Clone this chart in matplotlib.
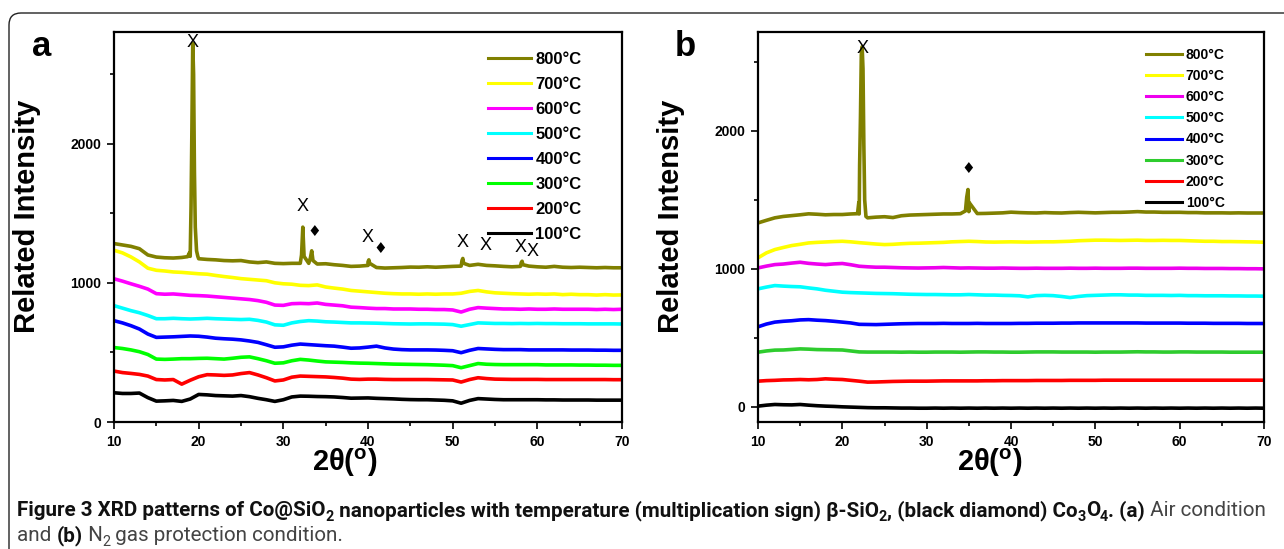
import matplotlib.pyplot as plt
from matplotlib.patches import FancyBboxPatch
from matplotlib.transforms import IdentityTransform
from matplotlib.ticker import MultipleLocator

plt.rcParams['font.family'] = ['Liberation Sans', 'DejaVu Sans']
plt.rcParams['mathtext.fontset'] = 'custom'
plt.rcParams['mathtext.rm'] = 'Liberation Sans'
plt.rcParams['mathtext.bf'] = 'Liberation Sans:bold'

# ---- data (2theta in degrees, intensity in counts) ----
two_theta = list(range(10, 71))
labels = ['800°C', '700°C', '600°C', '500°C', '400°C', '300°C', '200°C', '100°C']

# (a) air condition
a_800 = [1282, 1272, 1262, 1245, 1200, 1185, 1180, 1178, 1182, 1190, 1173, 1168, 1165, 1160, 1158,
         1160, 1150, 1145, 1150, 1140, 1138, 1140, 1140, 1140, 1135, 1137, 1130, 1125, 1118, 1120,
         1125, 1110, 1106, 1108, 1110, 1113, 1112, 1115, 1112, 1115, 1118, 1120, 1125, 1133, 1125,
         1122, 1118, 1115, 1118, 1120, 1115, 1112, 1118, 1112, 1110, 1112, 1110, 1108, 1110, 1108, 1108]
a_800_peak_x = [18.7, 18.9, 19.1, 19.2, 19.3, 19.4, 19.5, 19.6, 19.75, 19.9,
                32.15, 32.3, 32.45, 33.2, 33.35, 33.5, 40.0, 40.1, 40.2,
                51.1, 51.2, 51.3, 58.1, 58.2, 58.3]
a_800_peak_y = [1188, 1215, 1550, 2100, 2720, 2500, 1800, 1400, 1230, 1190,
                1200, 1400, 1190, 1180, 1230, 1160, 1150, 1165, 1140,
                1160, 1175, 1140, 1145, 1155, 1130]
a_700 = [1234, 1215, 1186, 1150, 1105, 1090, 1085, 1078, 1075, 1070, 1065, 1062, 1053, 1045, 1038,
         1030, 1025, 1020, 1015, 1000, 993, 990, 982, 980, 985, 970, 962, 955, 945, 940,
         935, 930, 925, 922, 920, 920, 918, 920, 918, 920, 920, 925, 938, 945, 935,
         928, 925, 922, 920, 918, 920, 918, 920, 915, 918, 915, 915, 912, 915, 912, 913]
a_600 = [1029, 1012, 993, 975, 955, 922, 918, 920, 915, 910, 908, 905, 900, 895, 890,
         885, 880, 872, 860, 840, 838, 850, 852, 850, 855, 845, 840, 835, 825, 822,
         818, 815, 815, 812, 812, 812, 810, 810, 808, 808, 805, 790, 810, 822, 818,
         815, 812, 812, 810, 812, 810, 810, 812, 810, 810, 810, 810, 808, 810, 808, 810]
a_500 = [836, 818, 800, 785, 765, 742, 742, 745, 742, 740, 742, 745, 742, 740, 738,
         736, 738, 730, 718, 698, 695, 712, 722, 728, 725, 720, 718, 715, 712, 712,
         711, 710, 708, 706, 705, 704, 705, 705, 704, 703, 700, 688, 700, 712, 710,
         708, 708, 707, 708, 707, 708, 707, 707, 706, 706, 706, 705, 705, 705, 705, 704]
a_400 = [728, 712, 692, 668, 632, 608, 610, 612, 615, 618, 616, 610, 602, 598, 595,
         590, 582, 572, 555, 537, 540, 552, 560, 556, 552, 548, 545, 538, 530, 532,
         538, 545, 532, 524, 520, 518, 518, 518, 517, 515, 512, 498, 515, 528, 525,
         522, 520, 520, 520, 518, 518, 518, 518, 518, 517, 517, 517, 516, 516, 515, 515]
a_300 = [535, 528, 518, 505, 485, 452, 450, 452, 455, 455, 457, 458, 455, 452, 458,
         465, 468, 455, 440, 422, 425, 440, 450, 445, 438, 432, 430, 428, 425, 423,
         422, 420, 418, 416, 415, 414, 413, 412, 410, 408, 405, 390, 405, 420, 415,
         413, 412, 412, 412, 412, 412, 410, 410, 410, 410, 409, 409, 408, 408, 407, 407]
a_200 = [366, 355, 349, 342, 330, 305, 302, 305, 272, 300, 325, 340, 338, 335, 338,
         348, 355, 338, 318, 295, 302, 322, 330, 328, 326, 324, 320, 315, 308, 306,
         308, 308, 306, 305, 305, 305, 305, 305, 304, 303, 302, 287, 305, 318, 312,
         308, 307, 306, 306, 306, 306, 305, 305, 305, 305, 305, 305, 305, 305, 304, 304]
a_100 = [210, 205, 205, 208, 175, 150, 152, 155, 148, 165, 198, 195, 190, 188, 186,
         190, 182, 170, 160, 148, 160, 180, 186, 185, 183, 182, 180, 176, 171, 172,
         173, 170, 168, 166, 163, 161, 160, 160, 158, 156, 152, 135, 155, 168, 165,
         162, 160, 160, 160, 160, 160, 159, 159, 158, 158, 158, 158, 157, 157, 157, 157]
a_sio2_x = [19.3, 32.3, 39.9, 51.2, 53.9, 58.0, 59.4]
a_sio2_y = [2730, 1545, 1329, 1291, 1270, 1257, 1226]
a_co3o4_x = [33.6, 41.5]
a_co3o4_y = [1370, 1250]

# (b) N2 protection
b_800 = [1333, 1352, 1370, 1380, 1386, 1392, 1399, 1396, 1392, 1394, 1394, 1398, 1398, 1370, 1375,
         1378, 1372, 1385, 1390, 1392, 1394, 1396, 1398, 1398, 1400, 1415, 1401, 1402, 1404, 1406,
         1411, 1408, 1406, 1405, 1408, 1406, 1405, 1408, 1410, 1408, 1406, 1408, 1410, 1410, 1412,
         1415, 1412, 1412, 1410, 1410, 1410, 1408, 1408, 1406, 1406, 1406, 1405, 1406, 1405, 1405, 1405]
b_800_peak_x = [21.8, 21.95, 22.05, 22.15, 22.25, 22.35, 22.45, 22.55, 22.65, 22.8,
                34.6, 34.75, 34.9, 35.05]
b_800_peak_y = [1400, 1480, 1750, 2100, 2550, 2610, 2450, 1900, 1500, 1380,
                1420, 1520, 1575, 1480]
b_700 = [1080, 1116, 1140, 1155, 1169, 1178, 1188, 1192, 1195, 1198, 1200, 1196, 1190, 1185, 1180,
         1176, 1178, 1182, 1185, 1186, 1188, 1190, 1192, 1196, 1198, 1200, 1198, 1195, 1194, 1195,
         1196, 1195, 1194, 1195, 1196, 1196, 1198, 1200, 1204, 1206, 1208, 1208, 1207, 1206, 1207,
         1208, 1206, 1206, 1207, 1206, 1206, 1204, 1202, 1200, 1200, 1198, 1198, 1197, 1196, 1195, 1193]
b_600 = [1007, 1020, 1031, 1035, 1042, 1048, 1040, 1035, 1031, 1036, 1039, 1030, 1019, 1015, 1012,
         1012, 1010, 1008, 1007, 1006, 1007, 1008, 1010, 1008, 1006, 1007, 1006, 1005, 1005, 1006,
         1005, 1004, 1004, 1005, 1004, 1004, 1004, 1005, 1004, 1004, 1005, 1004, 1004, 1004, 1005,
         1005, 1004, 1004, 1004, 1004, 1005, 1004, 1004, 1003, 1003, 1003, 1002, 1002, 1001, 1001, 1000]
b_500 = [855, 868, 879, 875, 872, 870, 862, 855, 845, 838, 831, 828, 826, 824, 822,
         821, 820, 818, 816, 815, 814, 814, 813, 812, 812, 814, 812, 810, 810, 808,
         807, 805, 797, 806, 808, 806, 800, 792, 800, 806, 808, 810, 812, 812, 810,
         810, 808, 808, 808, 807, 808, 806, 806, 805, 805, 805, 804, 804, 803, 803, 802]
b_400 = [580, 600, 614, 620, 624, 630, 632, 628, 625, 620, 614, 608, 598, 597, 596,
         598, 600, 602, 603, 604, 604, 604, 605, 604, 604, 604, 605, 604, 604, 604,
         604, 605, 605, 606, 606, 606, 607, 607, 608, 608, 608, 608, 608, 608, 608,
         608, 607, 607, 607, 607, 607, 606, 606, 606, 605, 605, 605, 605, 604, 604, 604]
b_300 = [396, 405, 411, 412, 416, 420, 418, 415, 414, 413, 412, 405, 398, 397, 397,
         397, 397, 396, 397, 396, 396, 397, 397, 397, 396, 397, 398, 398, 397, 397,
         396, 396, 397, 398, 398, 398, 397, 397, 397, 397, 396, 397, 397, 397, 398,
         399, 398, 398, 397, 397, 398, 398, 397, 397, 397, 397, 396, 396, 396, 396, 396]
b_200 = [186, 190, 192, 195, 196, 198, 196, 198, 203, 200, 198, 192, 186, 179, 180,
         182, 184, 185, 186, 186, 186, 187, 188, 188, 188, 188, 188, 189, 189, 190,
         190, 190, 190, 191, 191, 191, 191, 192, 192, 192, 192, 193, 193, 193, 193,
         193, 193, 193, 193, 193, 193, 193, 193, 193, 193, 193, 193, 193, 193, 193, 193]
b_100 = [5, 12, 17, 15, 14, 17, 12, 8, 5, 3, 0, -2, -4, -6, -7,
         -7, -8, -9, -9, -10, -10, -9, -10, -9, -10, -9, -10, -9, -10, -9,
         -10, -9, -10, -9, -10, -9, -10, -9, -10, -9, -10, -9, -10, -9, -10,
         -9, -10, -9, -10, -9, -10, -9, -10, -9, -10, -9, -10, -9, -10, -9, -10]
b_sio2_x = [22.4]
b_sio2_y = [2601]
b_co3o4_x = [34.9]
b_co3o4_y = [1726]

colors_a = ['#808000', '#FFFF00', '#FF00FF', '#00FFFF', '#0000FF', '#00FF00', '#FF0000', '#000000']
colors_b = ['#808000', '#FFFF00', '#EE00EE', '#00FFFF', '#0000FF', '#2ECC2E', '#FF0000', '#000000']

W, H = 1284, 549
fig = plt.figure(figsize=(W / 100, H / 100), dpi=100)

# rounded frame around the figure
fig.add_artist(FancyBboxPatch((9, -40), 1300, H - 13 + 40,
                              boxstyle='round,pad=0,rounding_size=12',
                              transform=IdentityTransform(), fc='none',
                              ec='#222222', lw=1.0))

tick_font = dict(family=['Liberation Sans Narrow', 'Liberation Sans'], weight='bold', size=10)


def make_panel(rect, series, peak_x, peak_y, colors, ylim, leg_anchor, leg_size,
               leg_spacing, sio2, co3o4, xlab_x, letter_xy, letter):
    ax = fig.add_axes(rect)
    for i, (vals, lab, col) in enumerate(zip(series, labels, colors)):
        if i == 0:
            pts = sorted(zip(two_theta + peak_x, vals + peak_y))
            xs = [p[0] for p in pts]
            ys = [p[1] for p in pts]
        else:
            xs, ys = two_theta, vals
        ax.plot(xs, ys, color=col, lw=2.6, label=lab, solid_joinstyle='round')
    for x, y in zip(*sio2):
        ax.text(x, y, 'X', ha='center', va='center', fontsize=13)
    for x, y in zip(*co3o4):
        ax.text(x, y, '\u2666', ha='center', va='center', fontsize=11,
                family=['DejaVu Sans'])
    ax.set_xlim(10, 70)
    ax.set_ylim(*ylim)
    ax.xaxis.set_major_locator(MultipleLocator(10))
    ax.xaxis.set_minor_locator(MultipleLocator(5))
    ax.yaxis.set_major_locator(MultipleLocator(1000))
    ax.yaxis.set_minor_locator(MultipleLocator(500))
    ax.tick_params(which='both', direction='out', width=1.2, top=False, right=False)
    ax.tick_params(which='major', length=5, pad=4)
    ax.tick_params(which='minor', length=3)
    for lb in ax.get_xticklabels() + ax.get_yticklabels():
        lb.set_fontproperties(tick_font)
    for sp in ax.spines.values():
        sp.set_linewidth(1.6)
    ax.set_ylabel('Related Intensity', fontsize=21, fontweight='bold')
    ax.yaxis.set_label_coords(-0.144, 0.528)
    ax.set_xlabel(r'2θ($^{\mathbf{o}}$)', fontsize=21, fontweight='bold')
    ax.xaxis.set_label_coords(xlab_x, -0.105)
    ax.xaxis.label.set_va('center')
    leg = ax.legend(loc='upper left', bbox_to_anchor=leg_anchor, frameon=False,
                    borderpad=0, borderaxespad=0, handlelength=2.6,
                    handletextpad=0.25, labelspacing=leg_spacing,
                    prop=dict(weight='bold', size=leg_size))
    for h in leg.get_lines():
        h.set_linewidth(2.2)
    fig.text(letter_xy[0] / W, 1 - letter_xy[1] / H, letter, fontsize=25,
             fontweight='bold', ha='left', va='baseline')
    return ax


make_panel([114 / W, 1 - 422 / H, 508 / W, 390 / H],
           [a_800, a_700, a_600, a_500, a_400, a_300, a_200, a_100],
           a_800_peak_x, a_800_peak_y, colors_a, (0, 2802),
           (0.736, 0.948), 12, 0.6, (a_sio2_x, a_sio2_y), (a_co3o4_x, a_co3o4_y),
           0.455, (32, 56), 'a')
make_panel([758 / W, 1 - 422 / H, 506 / W, 390 / H],
           [b_800, b_700, b_600, b_500, b_400, b_300, b_200, b_100],
           b_800_peak_x, b_800_peak_y, colors_b, (-110, 2717),
           (0.767, 0.96), 10, 0.52, (b_sio2_x, b_sio2_y), (b_co3o4_x, b_co3o4_y),
           0.458, (675, 56), 'b')

# ---- caption ----
renderer = fig.canvas.get_renderer()
cap_font = ['Roboto', 'DejaVu Sans']
line1 = [('Figure 3 XRD patterns of Co@SiO', 'bold', False), ('2', 'bold', True),
         (' nanoparticles with temperature (multiplication sign) β-SiO', 'bold', False),
         ('2', 'bold', True), (', (black diamond) Co', 'bold', False), ('3', 'bold', True),
         ('O', 'bold', False), ('4', 'bold', True), ('. (a)', 'bold', False),
         (' Air condition', 'normal', False)]
line2 = [('and ', 'normal', False), ('(b)', 'bold', False), (' N', 'normal', False),
         ('2', 'normal', True), (' gas protection condition.', 'normal', False)]


def draw_runs(runs, x0, base, size):
    x = x0
    arts = []
    for s, wt, sub in runs:
        fs = size * 0.7 if sub else size
        y = base + (size * 100 / 72) * 0.22 if sub else base
        col = '#111111' if wt == 'bold' else '#444444'
        t = fig.text(x / W, 1 - y / H, s, fontsize=fs, fontweight=wt, color=col,
                     family=cap_font, ha='left', va='baseline')
        arts.append(t)
        x += t.get_window_extent(renderer).width
    return arts, x - x0


size = 13
for _ in range(3):
    arts, width = draw_runs(line1, 17, 516, size)
    for t in arts:
        t.remove()
    size = size * 1252 / width
draw_runs(line1, 17, 516, size)
draw_runs(line2, 17, 541, size)

fig.savefig('out.png', dpi=100)
